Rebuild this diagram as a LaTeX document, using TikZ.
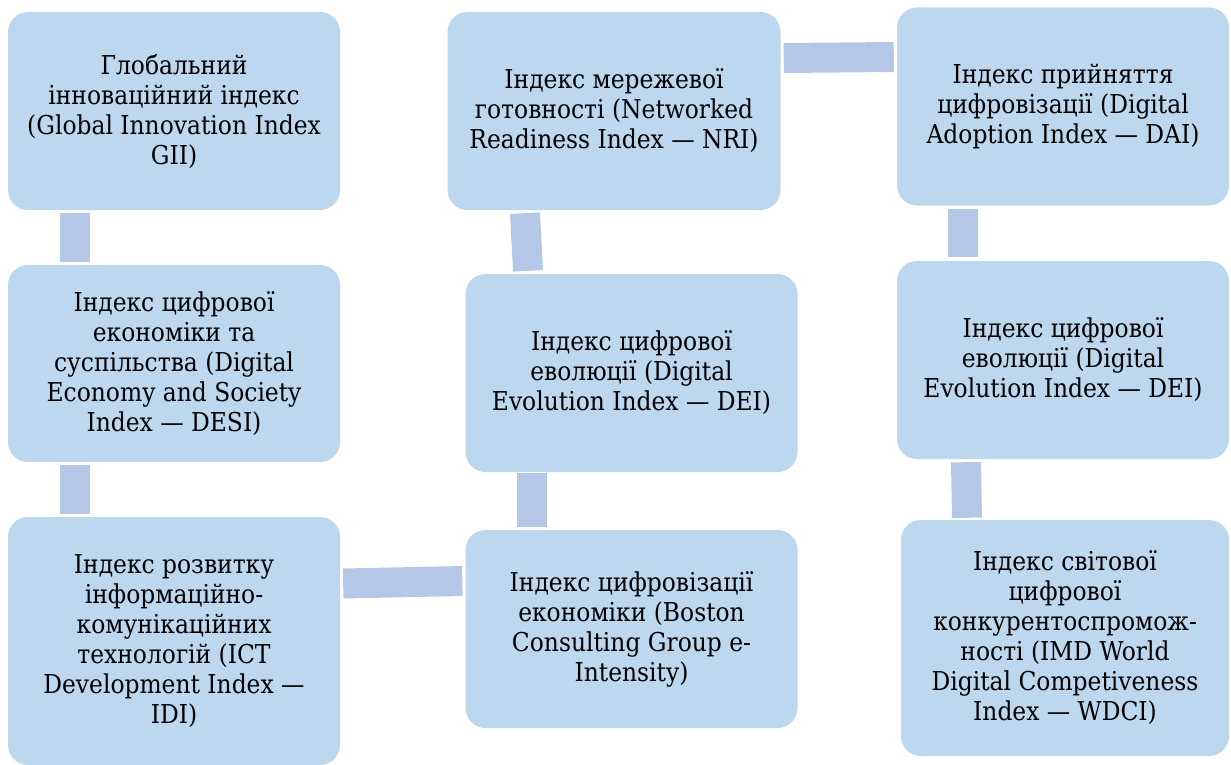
\documentclass[tikz,border=0pt]{standalone}
\usepackage{fontspec}
\newfontfamily\boxfont{DejaVu Serif Condensed}
\usetikzlibrary{calc}
\definecolor{boxfill}{HTML}{BDD7EE}
\definecolor{barfill}{HTML}{B4C7E7}
\tikzset{
  ibox/.style={rectangle, rounded corners=20pt, fill=boxfill, draw=none,
    align=center, inner sep=0pt, minimum width=332pt, minimum height=198pt,
    font=\boxfont\fontsize{26}{30}\selectfont, text=black},
  bar/.style={draw=barfill, line width=30pt, line cap=butt}
}
\begin{document}
\begin{tikzpicture}[x=1pt,y=-1pt]
\useasboundingbox (0,0) rectangle (1231,765);
% boxes
\node[ibox] (b1) at (174,111) {Глобальний\\інноваційний індекс\\(Global Innovation Index\\GII)};
\node[ibox, minimum height=197pt] (b2) at (174,363.5) {Індекс цифрової\\економіки та\\суспільства (Digital\\Economy and Society\\Index — DESI)};
\node[ibox, minimum height=248pt] (b3) at (174,641) {Індекс розвитку\\інформаційно-\\комунікаційних\\технологій (ICT\\Development Index —\\IDI)};
\node[ibox, minimum width=333pt] (b4) at (614,111) {Індекс мережевої\\готовності (Networked\\Readiness Index — NRI)};
\node[ibox] (b5) at (631.5,373) {Індекс цифрової\\еволюції (Digital\\Evolution Index — DEI)};
\node[ibox] (b6) at (631.5,629) {Індекс цифровізації\\економіки (Boston\\Consulting Group e-\\Intensity)};
\node[ibox] (b7) at (1063,106.5) {Індекс прийняття\\цифровізації (Digital\\Adoption Index — DAI)};
\node[ibox] (b8) at (1063,360) {Індекс цифрової\\еволюції (Digital\\Evolution Index — DEI)};
\node[ibox, minimum width=328pt, minimum height=236pt] (b9) at (1065,638) {Індекс світової\\цифрової\\конкурентоспромож-\\ності (IMD World\\Digital Competiveness\\Index — WDCI)};
% connectors
\draw[bar] ($(b1.south)+(-99.5,3)$) -- ($(b2.north)+(-99.5,-3)$);
\draw[bar] ($(b2.south)+(-99.5,3)$) -- ($(b3.north)+(-99.5,-3)$);
\draw[bar] ($(b3.east)+(3,-57.5)$) -- ($(b6.west)+(-3,-48)$);
\draw[bar] ($(b6.north)+(-100,-3)$) -- ($(b5.north)+(-100,199)$);
\draw[bar] ($(b5.north)+(-103.5,-3)$) -- ($(b4.south)+(-89,3)$);
\draw[bar] ($(b4.east)+(3,-53)$) -- ($(b7.west)+(-3,-49.5)$);
\draw[bar] ($(b7.south)+(-100,3)$) -- ($(b8.north)+(-100,-4)$);
\draw[bar] ($(b8.south)+(-97,3)$) -- ($(b9.north)+(-98,-2)$);
\end{tikzpicture}
\end{document}
